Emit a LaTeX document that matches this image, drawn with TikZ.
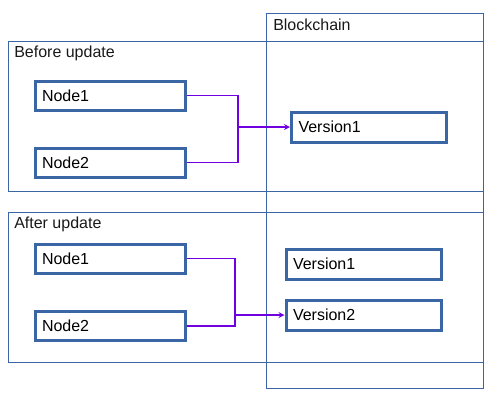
\documentclass[tikz,border=0pt]{standalone}
\usepackage{fontspec}
\setmainfont{Liberation Sans}
\usepackage{tikz}
\usetikzlibrary{arrows,positioning}
\definecolor{boxblue}{HTML}{3A66A6}
\definecolor{linkviolet}{HTML}{7000E0}

\begin{document}
\begin{tikzpicture}
	[x=0.75pt, y=-0.75pt, inner sep=0pt, font=\fontsize{12}{14}\selectfont,
	frame/.style	= {rectangle, draw=boxblue, line width=0.75pt},
	peer/.style	= {rectangle, draw=boxblue, line width=2.25pt, minimum height=21.75pt, text width=102pt, inner xsep=5.25pt, align=left},
	block/.style	= {rectangle, draw=boxblue, line width=2.25pt, minimum height=22.5pt, text width=105.75pt, inner xsep=5.25pt, align=left},
	caption/.style	= {anchor=west, text=black!90},
	links/.style	= {draw=linkviolet, line width=1pt},
	paths/.style	= {->, >=stealth, draw=linkviolet, line width=1pt}]

	\useasboundingbox (0,0) rectangle (500,404);

	% containers
	\node at (374.5, 200.5)	[frame, minimum width=162.75pt, minimum height=281.25pt]	(chain)	{};
	\node at (245.5, 116)	[frame, minimum width=356.25pt, minimum height=112.5pt]	(before)	{};
	\node at (245.5, 287)	[frame, minimum width=356.25pt, minimum height=112.5pt]	(after)	{};
	\node at (273, 25)	[caption]	(chaincap)	{Blockchain};
	\node at (14, 53)	[caption]	(beforecap)	{Before update};
	\node at (14, 224)	[caption]	(aftercap)	{After update};

	% before update
	\node at (110, 95.5)	[peer]	(bn1)	{Node1};
	\node at (110, 162.5)	[peer]	(bn2)	{Node2};
	\node at (369, 127)	[block]	(bv1)	{Version1};
	\coordinate (bj) at (238, 127);

	\draw [links] (bn1.east) -| (bj);
	\draw [links] (bn2.east) -| (bj);
	\draw [paths] (bj) -- (bv1.west);

	% after update
	\node at (110, 258.5)	[peer]	(an1)	{Node1};
	\node at (110, 326)	[peer]	(an2)	{Node2};
	\node at (363.5, 264)	[block]	(av1)	{Version1};
	\node at (363.5, 315)	[block]	(av2)	{Version2};
	\coordinate (aj) at (235, 315);

	\draw [links] (an1.east) -| (aj);
	\draw [links] (an2.east) -| (aj);
	\draw [paths] (aj) -- (av2.west);

\end{tikzpicture}
\end{document}
